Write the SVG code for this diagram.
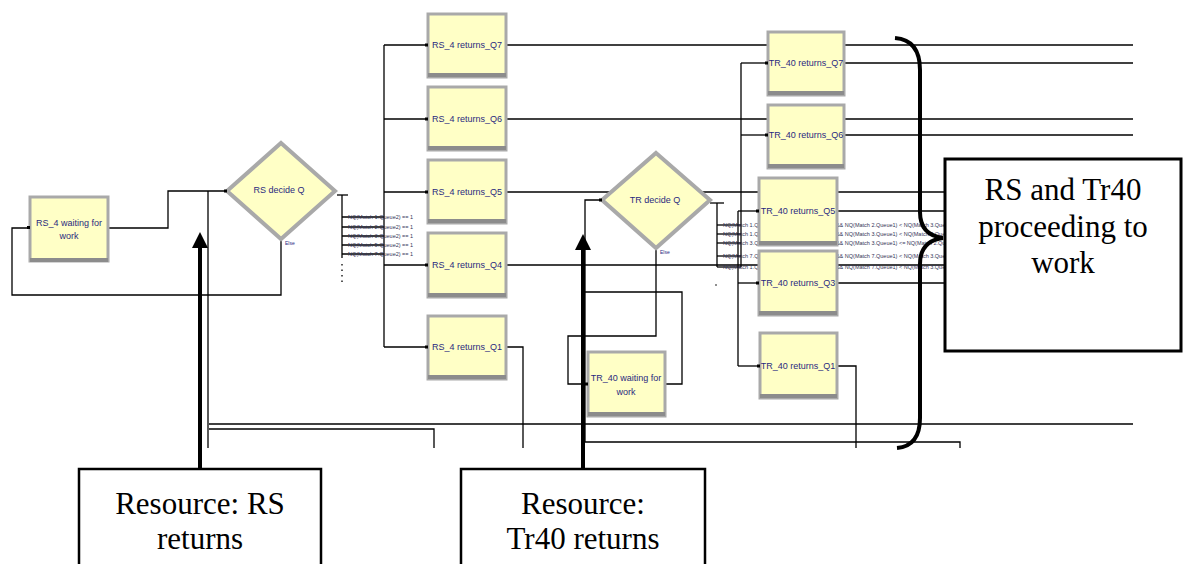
<svg xmlns="http://www.w3.org/2000/svg" width="1183" height="564" viewBox="0 0 1183 564">
<style>
.ln{fill:none;stroke:#000;stroke-width:1.3}
.thk{fill:none;stroke:#000;stroke-width:4}
.box{fill:#ffffc6;stroke:#a9a9a9;stroke-width:3}
.shd{fill:#8c8c8c}
.dia{fill:#ffffc6;stroke:#a9a9a9;stroke-width:4}
.lbl{font-family:"Liberation Sans",Arial,sans-serif;font-size:9px;fill:#2a2a80;text-anchor:middle}
.cond{font-family:"Liberation Sans",Arial,sans-serif;font-size:5.5px;fill:#333355}
.els{font-family:"Liberation Sans",Arial,sans-serif;font-size:5px;fill:#2a2a80}
.big{font-family:"Liberation Serif","Times New Roman",serif;font-size:31px;fill:#000;text-anchor:middle}
.call{fill:#fff;stroke:#000;stroke-width:2.5}
.port{fill:#000}
</style>
<defs>
<marker id="ah" viewBox="0 0 10 10" refX="9" refY="5" markerWidth="4" markerHeight="4" orient="auto"><path d="M0,0L10,5L0,10z" fill="#000"/></marker>
</defs>
<rect width="1183" height="564" fill="#fff"/>

<g id="connectors">
<!-- RS waiting loop -->
<polyline class="ln" points="109,228 168,228 168,191 227,191"/>
<polyline class="ln" points="281,239 281,295 12,295 12,228 29,228"/>
<!-- RS returns line -->
<polyline class="ln" points="208,191 208,448"/>
<polyline class="ln" points="209,424 1133,424"/>
<polyline class="ln" points="209,429 434,429 434,448"/>
<!-- RS tee and branches -->
<polyline class="ln" points="337,195 348,195"/>
<polyline class="ln" points="342,195 342,258"/>
<line class="ln" x1="342" y1="264" x2="342" y2="283" stroke-dasharray="1.5,4"/>
<line class="ln" x1="342" y1="217" x2="384" y2="217"/>
<line class="ln" x1="342" y1="227" x2="384" y2="227"/>
<line class="ln" x1="342" y1="236" x2="384" y2="236"/>
<line class="ln" x1="342" y1="245" x2="384" y2="245"/>
<line class="ln" x1="342" y1="254" x2="384" y2="254"/>
<!-- RS bus -->
<polyline class="ln" points="384,45 384,347"/>
<line class="ln" x1="384" y1="45" x2="427" y2="45"/>
<line class="ln" x1="384" y1="119" x2="427" y2="119"/>
<line class="ln" x1="384" y1="192" x2="427" y2="192"/>
<line class="ln" x1="384" y1="265" x2="427" y2="265"/>
<line class="ln" x1="384" y1="347" x2="427" y2="347"/>
<!-- RS_4 outputs -->
<line class="ln" x1="507" y1="45" x2="1133" y2="45"/>
<line class="ln" x1="507" y1="119" x2="1133" y2="119"/>
<line class="ln" x1="507" y1="192" x2="945" y2="192"/>
<line class="ln" x1="507" y1="265" x2="945" y2="265"/>
<polyline class="ln" points="507,347 523,347 523,448"/>
<!-- TR input -->
<polyline class="ln" points="602,200 585,200 585,442 960,442 960,448"/>
<polyline class="ln" points="656,248 656,336 568,336 568,384 587,384"/>
<polyline class="ln" points="666,384 682,384 682,292 585,292"/>
<!-- TR tee -->
<polyline class="ln" points="710,203 724,203"/>
<polyline class="ln" points="717,203 717,267"/>
<circle cx="716" cy="285" r="0.8" fill="#000"/>
<line class="ln" x1="717" y1="225" x2="741" y2="225"/>
<line class="ln" x1="717" y1="234" x2="741" y2="234"/>
<line class="ln" x1="717" y1="243" x2="741" y2="243"/>
<line class="ln" x1="717" y1="256" x2="741" y2="256"/>
<line class="ln" x1="717" y1="267" x2="741" y2="267"/>
<!-- TR bus -->
<polyline class="ln" points="741,63 741,267"/>
<polyline class="ln" points="738,211 738,366"/>
<line class="ln" x1="741" y1="63" x2="767" y2="63"/>
<line class="ln" x1="741" y1="135" x2="767" y2="135"/>
<line class="ln" x1="738" y1="211" x2="758" y2="211"/>
<line class="ln" x1="738" y1="283" x2="758" y2="283"/>
<line class="ln" x1="738" y1="366" x2="759" y2="366"/>
<!-- TR_40 outputs -->
<line class="ln" x1="845" y1="63" x2="1133" y2="63"/>
<line class="ln" x1="845" y1="135" x2="1133" y2="135"/>
<line class="ln" x1="838" y1="211" x2="945" y2="211"/>
<line class="ln" x1="838" y1="283" x2="945" y2="283"/>
<polyline class="ln" points="838,366 856,366 856,448"/>
<!-- condition texts -->
<text class="cond" x="348" y="219">NQ(Match 1.Queue2) == 1</text>
<text class="cond" x="348" y="229">NQ(Match 2.Queue2) == 1</text>
<text class="cond" x="348" y="238">NQ(Match 3.Queue2) == 1</text>
<text class="cond" x="348" y="247">NQ(Match 5.Queue2) == 1</text>
<text class="cond" x="348" y="256">NQ(Match 7.Queue2) == 1</text>
<text class="cond" x="723" y="227">NQ(Match 1.Queue1) &lt; NQ(Match 2.Queue1) &amp;&amp; NQ(Match 2.Queue1) &lt; NQ(Match 3.Queue1)</text>
<text class="cond" x="723" y="236">NQ(Match 1.Queue1) &lt; NQ(Match 3.Queue1) &amp;&amp; NQ(Match 3.Queue1) &lt; NQ(Match 2.Queue1)</text>
<text class="cond" x="723" y="245">NQ(Match 3.Queue1) &lt; NQ(Match 1.Queue1) &amp;&amp; NQ(Match 3.Queue1) &lt;= NQ(Match 2.Queue1)</text>
<text class="cond" x="723" y="258">NQ(Match 7.Queue1) &lt; NQ(Match 1.Queue1) &amp;&amp; NQ(Match 7.Queue1) &lt; NQ(Match 3.Queue1)</text>
<text class="cond" x="723" y="269">NQ(Match 1.Queue1) &lt; NQ(Match 5.Queue1) &amp;&amp; NQ(Match 7.Queue1) &lt; NQ(Match 3.Queue1)</text>
<text class="els" x="285" y="245">Else</text>
<text class="els" x="660" y="254">Else</text>
</g>

<g id="rs-waiting">
<rect class="box" x="30" y="197" width="78" height="64"/>
<rect class="shd" x="30" y="258" width="78" height="4"/>
<rect class="port" x="27" y="226" width="3" height="3"/>
<text class="lbl" x="69" y="226">RS_4 waiting for</text>
<text class="lbl" x="69" y="239">work</text>
</g>

<g id="rs-decide">
<polygon class="dia" points="281,143 335,191 281,239 227,191"/>
<rect class="port" x="224" y="189.5" width="3" height="3"/>
<text class="lbl" x="279" y="193">RS decide Q</text>
</g>

<g id="rs-q7"><rect class="box" x="428" y="14" width="78" height="63"/><rect class="shd" x="428" y="73" width="78" height="4"/><rect class="port" x="425" y="43.5" width="3" height="3"/><text class="lbl" x="467" y="48">RS_4 returns_Q7</text></g>
<g id="rs-q6"><rect class="box" x="428" y="87" width="78" height="63"/><rect class="shd" x="428" y="146" width="78" height="4"/><rect class="port" x="425" y="117.5" width="3" height="3"/><text class="lbl" x="467" y="122">RS_4 returns_Q6</text></g>
<g id="rs-q5"><rect class="box" x="428" y="160" width="78" height="63"/><rect class="shd" x="428" y="219" width="78" height="4"/><rect class="port" x="425" y="190.5" width="3" height="3"/><text class="lbl" x="467" y="195">RS_4 returns_Q5</text></g>
<g id="rs-q4"><rect class="box" x="428" y="233" width="78" height="64"/><rect class="shd" x="428" y="293" width="78" height="4"/><rect class="port" x="425" y="263.5" width="3" height="3"/><text class="lbl" x="467" y="268">RS_4 returns_Q4</text></g>
<g id="rs-q1"><rect class="box" x="428" y="316" width="78" height="63"/><rect class="shd" x="428" y="375" width="78" height="4"/><rect class="port" x="425" y="345.5" width="3" height="3"/><text class="lbl" x="467" y="350">RS_4 returns_Q1</text></g>

<g id="tr-decide">
<polygon class="dia" points="656,153 710,200 656,248 602,200"/>
<rect class="port" x="599" y="198.5" width="3" height="3"/>
<text class="lbl" x="655" y="203">TR decide Q</text>
</g>

<g id="tr-waiting">
<rect class="box" x="588" y="352" width="77" height="64"/>
<rect class="shd" x="588" y="412" width="77" height="4"/>
<rect class="port" x="585" y="382.5" width="3" height="3"/>
<text class="lbl" x="626" y="381">TR_40 waiting for</text>
<text class="lbl" x="626" y="395">work</text>
</g>

<g id="tr-q7"><rect class="box" x="768" y="32" width="76" height="63"/><rect class="shd" x="768" y="91" width="76" height="4"/><rect class="port" x="765" y="61.5" width="3" height="3"/><text class="lbl" x="806" y="66">TR_40 returns_Q7</text></g>
<g id="tr-q6"><rect class="box" x="768" y="105" width="76" height="63"/><rect class="shd" x="768" y="164" width="76" height="4"/><rect class="port" x="765" y="133.5" width="3" height="3"/><text class="lbl" x="806" y="138">TR_40 returns_Q6</text></g>
<g id="tr-q5"><rect class="box" x="759" y="178" width="78" height="67"/><rect class="shd" x="759" y="241" width="78" height="4"/><rect class="port" x="756" y="209.5" width="3" height="3"/><text class="lbl" x="798" y="214">TR_40 returns_Q5</text></g>
<g id="tr-q3"><rect class="box" x="759" y="251" width="78" height="64"/><rect class="shd" x="759" y="311" width="78" height="4"/><rect class="port" x="756" y="281.5" width="3" height="3"/><text class="lbl" x="798" y="286">TR_40 returns_Q3</text></g>
<g id="tr-q1"><rect class="box" x="760" y="333" width="77" height="65"/><rect class="shd" x="760" y="394" width="77" height="4"/><rect class="port" x="757" y="364.5" width="3" height="3"/><text class="lbl" x="798" y="369">TR_40 returns_Q1</text></g>

<g id="brace">
<path class="thk" d="M895,38 Q920,40 920,70 L920,212 Q920,235 943,238 Q920,241 920,264 L920,418 Q920,446 897,448"/>
</g>

<g id="callout-proceed">
<rect x="945" y="159" width="236" height="192" fill="#fff" stroke="#000" stroke-width="3"/>
<text class="big" x="1063" y="200">RS and Tr40</text>
<text class="big" x="1063" y="237">proceeding to</text>
<text class="big" x="1063" y="273">work</text>
</g>

<g id="callout-rs">
<line class="thk" x1="200" y1="470" x2="200" y2="246"/>
<polygon points="200,232 208,248 192,248" fill="#000"/>
<rect class="call" x="79" y="469" width="242" height="100"/>
<text class="big" x="200" y="514">Resource: RS</text>
<text class="big" x="200" y="549">returns</text>
</g>

<g id="callout-tr">
<line class="thk" x1="583" y1="470" x2="583" y2="248"/>
<polygon points="583,234 591,250 575,250" fill="#000"/>
<rect class="call" x="461" y="469" width="244" height="100"/>
<text class="big" x="583" y="514">Resource:</text>
<text class="big" x="583" y="549">Tr40 returns</text>
</g>
</svg>
